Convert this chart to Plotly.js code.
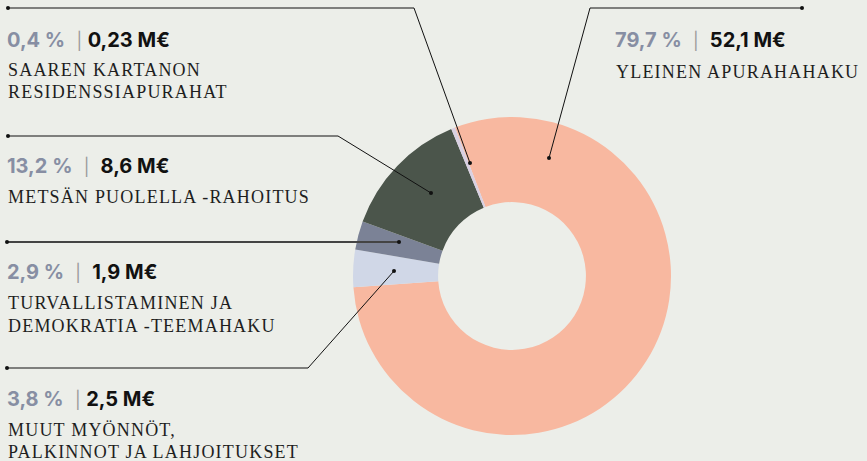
<!DOCTYPE html>
<html>
<head>
<meta charset="utf-8">
<script src="https://cdn.plot.ly/plotly-3.0.1.min.js"></script>
<style>
html,body{margin:0;padding:0;background:#eceee9;}
#chart{width:867px;height:461px;}
</style>
</head>
<body>
<div id="chart"></div>
<script>
// ---- data ----
const categories = ['Yleinen apurahahaku', 'Muut myönnöt, palkinnot ja lahjoitukset', 'Turvallistaminen ja demokratia -teemahaku', 'Metsän puolella -rahoitus', 'Saaren kartanon residenssiapurahat'];
const shares = [79.7, 3.8, 2.9, 13.2, 0.4];
const percentLabels = ['79,7 %', '3,8 %', '2,9 %', '13,2 %', '0,4 %'];
const amountLabels = ['52,1 M€', '2,5 M€', '1,9 M€', '8,6 M€', '0,23 M€'];
const labelLines = [
  ['YLEINEN APURAHAHAKU'],
  ['MUUT MYÖNNÖT,', 'PALKINNOT JA LAHJOITUKSET'],
  ['TURVALLISTAMINEN JA', 'DEMOKRATIA -TEEMAHAKU'],
  ['METSÄN PUOLELLA -RAHOITUS'],
  ['SAAREN KARTANON', 'RESIDENSSIAPURAHAT']
];
const colors = ['#f8b8a0', '#d0d7e7', '#7b8296', '#4b554b', '#d9d0e2'];

// ---- layout helpers (pixels) ----
const W = 867, H = 461;
const px = x => x / W;
const py = y => 1 - y / H;
const blocks = [
  {x: 613, head: 40, lines: [72], gap: '&nbsp;&nbsp;'},
  {x: 5, head: 399, lines: [430, 452], gap: '&nbsp;'},
  {x: 5, head: 272, lines: [303, 326], gap: '&nbsp;&nbsp;'},
  {x: 5, head: 166, lines: [197], gap: '&nbsp;&nbsp;'},
  {x: 5, head: 40, lines: [70, 92], gap: '&nbsp;'}
];
const leaders = [
  [[549, 158], [590, 8], [802, 8]],
  [[394, 271], [308, 368], [7, 368]],
  [[399, 242], [7, 242]],
  [[431, 193], [338, 136], [8, 136]],
  [[470, 163], [414, 8], [8, 8]]
];

const cx = 512, cy = 276, R = 159;

const trace = {
  type: 'pie',
  labels: categories,
  values: shares,
  sort: false,
  direction: 'clockwise',
  rotation: -21,
  hole: 0.465,
  marker: {colors: colors, line: {width: 0}},
  textinfo: 'none',
  hoverinfo: 'none',
  showlegend: false,
  domain: {x: [px(cx - R), px(cx + R)], y: [py(cy + R), py(cy - R)]}
};

const annotations = [];
const shapes = [];
categories.forEach((c, i) => {
  const b = blocks[i];
  annotations.push({
    xref: 'paper', yref: 'paper', x: px(b.x), y: py(b.head),
    xanchor: 'left', yanchor: 'middle', showarrow: false,
    text: '<b><span style="color:#878ea3">' + percentLabels[i] + '</span></b>&nbsp;&nbsp;' +
          '<span style="color:#9a9a9a;font-size:17px">|</span>' + b.gap +
          '<b>' + amountLabels[i] + '</b>',
    font: {family: 'Inter, Roboto, sans-serif', size: 20, color: '#111'}
  });
  labelLines[i].forEach((t, j) => {
    annotations.push({
      xref: 'paper', yref: 'paper', x: px(b.x + 1), y: py(b.lines[j]),
      xanchor: 'left', yanchor: 'middle', showarrow: false,
      text: '<span style="letter-spacing:1.2px">' + t + '</span>',
      font: {family: '"Liberation Serif", "DejaVu Serif", serif', size: 18, color: '#1e1e1e'}
    });
  });
  const pts = leaders[i];
  const path = pts.map((p, k) => (k ? 'L' : 'M') + px(p[0]) + ',' + py(p[1])).join(' ');
  shapes.push({type: 'path', xref: 'paper', yref: 'paper', path: path,
    line: {color: i === 2 ? '#444' : '#111', width: i === 2 ? 1.8 : 1}});
  [pts[0], pts[pts.length - 1]].forEach(p => {
    shapes.push({type: 'circle', xref: 'paper', yref: 'paper',
      xsizemode: 'pixel', ysizemode: 'pixel', xanchor: px(p[0]), yanchor: py(p[1]),
      x0: -2, x1: 2, y0: -2, y1: 2, fillcolor: '#111', line: {width: 0}});
  });
});

const layout = {
  width: W, height: H,
  margin: {l: 0, r: 0, t: 0, b: 0},
  paper_bgcolor: '#eceee9',
  plot_bgcolor: '#eceee9',
  annotations: annotations,
  shapes: shapes,
  showlegend: false
};

Plotly.newPlot('chart', [trace], layout, {displayModeBar: false, staticPlot: true});
</script>
</body>
</html>
